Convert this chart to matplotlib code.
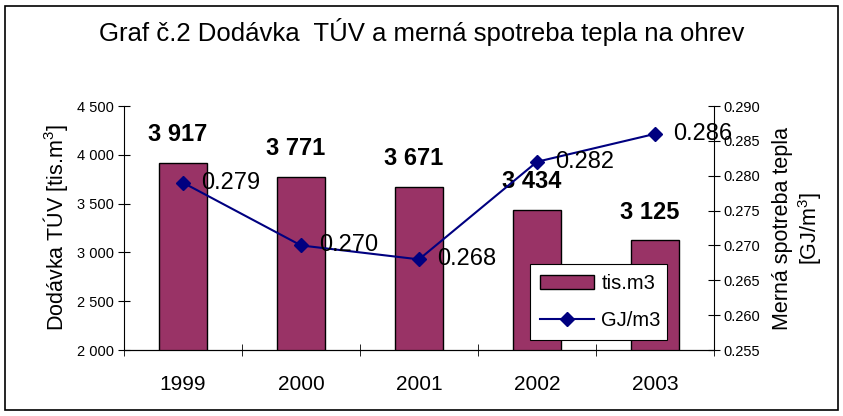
import numpy as np
import matplotlib
matplotlib.use("Agg")
import matplotlib.pyplot as plt
from matplotlib.patches import Rectangle

plt.rcParams["font.family"] = ["Liberation Sans", "DejaVu Sans"]
plt.rcParams["mathtext.fontset"] = "custom"
plt.rcParams["mathtext.rm"] = "Liberation Sans"
plt.rcParams["mathtext.default"] = "regular"

years = ["1999", "2000", "2001", "2002", "2003"]
supply = [3917, 3771, 3671, 3434, 3125]          # tis.m3
spec_heat = [0.279, 0.270, 0.268, 0.282, 0.286]  # GJ/m3

supply_labels = ["3 917", "3 771", "3 671", "3 434", "3 125"]
left_ticks = [2000, 2500, 3000, 3500, 4000, 4500]
left_tick_labels = ["2 000", "2 500", "3 000", "3 500", "4 000", "4 500"]
right_ticks = [0.255, 0.260, 0.265, 0.270, 0.275, 0.280, 0.285, 0.290]

bar_color = "#993366"
line_color = "#000080"

fig = plt.figure(figsize=(8.43, 4.16), dpi=100)
ax = fig.add_axes([124 / 843, 1 - 350 / 416, (714 - 124) / 843, (350 - 106) / 416])
x = np.arange(len(years))

bars = ax.bar(x, supply, width=0.41, color=bar_color, edgecolor="black",
              linewidth=1, label="tis.m3", zorder=2)
ax.set_ylim(2000, 4500)
ax.set_xlim(-0.5, len(years) - 0.5)
ax.set_yticks(left_ticks)
ax.set_yticklabels(left_tick_labels, fontsize=10.5)
ax.set_xticks(x)
ax.set_xticklabels(years, fontsize=15)
ax.set_xticks(np.arange(len(years) + 1) - 0.5, minor=True)
ax.tick_params(axis="x", which="major", length=0, pad=18)
ax.tick_params(axis="x", which="minor", direction="inout", length=8)
ax.tick_params(axis="y", direction="inout", length=8, pad=3)
ax.spines["top"].set_visible(False)
ax.spines["right"].set_visible(False)
ax.set_ylabel("Dodávka TÚV [tis.m$^3$]", fontsize=15.5, labelpad=5)

for xi, v, lab in zip(x, supply, supply_labels):
    ax.annotate(lab, (xi, v), xytext=(-4, 12), textcoords="offset points",
                ha="center", va="bottom", fontsize=17, fontweight="bold")

ax2 = ax.twinx()
ax2.plot(x, spec_heat, color=line_color, linewidth=1.5, marker="D",
         markersize=7, label="GJ/m3", zorder=3)
ax2.set_ylim(0.255, 0.290)
ax2.set_yticks(right_ticks)
ax2.set_yticklabels([f"{t:.3f}" for t in right_ticks], fontsize=10.5)
ax2.tick_params(axis="y", direction="inout", length=8, pad=3)
ax2.spines["top"].set_visible(False)
ax2.spines["left"].set_visible(False)
ax2.set_ylabel("Merná spotreba tepla\n[GJ/m$^3$]", fontsize=15.5, labelpad=8,
               linespacing=1.15)

for xi, v in zip(x, spec_heat):
    ax2.annotate(f"{v:.3f}", (xi, v), xytext=(13, 0), textcoords="offset points",
                 ha="left", va="center", fontsize=17)

handles = [bars, ax2.get_lines()[0]]
leg = ax2.legend(handles, ["tis.m3", "GJ/m3"], loc="lower left",
                 bbox_to_anchor=(0.688, 0.04, 0.232, 0.32), mode="expand",
                 borderaxespad=0, fontsize=14.5, frameon=True, fancybox=False,
                 edgecolor="black", framealpha=1, borderpad=0.5,
                 labelspacing=0.9, handlelength=2.7, handletextpad=0.35)
leg.get_frame().set_linewidth(0.8)

fig.text(0.5, 1 - 32 / 416, "Graf č.2 Dodávka  TÚV a merná spotreba tepla na ohrev",
         ha="center", va="center", fontsize=18.5)

fig.patches.append(Rectangle((5 / 843, 6 / 416), 833 / 843, 404 / 416,
                             transform=fig.transFigure, fill=False,
                             edgecolor="black", linewidth=1.2))

fig.savefig("out.png", dpi=100)
